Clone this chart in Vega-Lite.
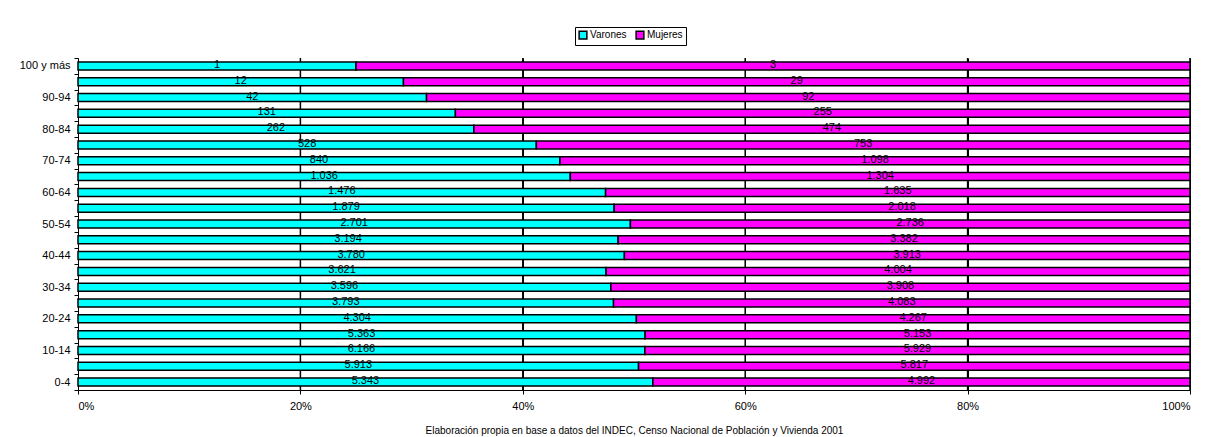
{
  "$schema": "https://vega.github.io/schema/vega-lite/v6.json",
  "width": 1112,
  "height": 332,
  "autosize": {"type": "none"},
  "padding": {"left": 78, "top": 58, "right": 24, "bottom": 47},
  "background": "white",
  "config": {
    "locale": {"number": {"decimal": ",", "thousands": ".", "grouping": [3], "currency": ["$", ""]}},
    "font": "Liberation Sans",
    "view": {"stroke": null},
    "axis": {"labelFont": "Liberation Sans", "labelFontSize": 11, "labelColor": "#000", "domainColor": "#000", "tickColor": "#000"}
  },
  "datasets": {
    "lineas": [{"g": 0.2}, {"g": 0.4}, {"g": 0.6}, {"g": 0.8}, {"g": 1}],
    "pob": [
      {"edad": "0-4", "sexo": "Varones", "n": 5343},
      {"edad": "0-4", "sexo": "Mujeres", "n": 4992},
      {"edad": "5-9", "sexo": "Varones", "n": 5913},
      {"edad": "5-9", "sexo": "Mujeres", "n": 5817},
      {"edad": "10-14", "sexo": "Varones", "n": 6166},
      {"edad": "10-14", "sexo": "Mujeres", "n": 5929},
      {"edad": "15-19", "sexo": "Varones", "n": 5363},
      {"edad": "15-19", "sexo": "Mujeres", "n": 5153},
      {"edad": "20-24", "sexo": "Varones", "n": 4304},
      {"edad": "20-24", "sexo": "Mujeres", "n": 4267},
      {"edad": "25-29", "sexo": "Varones", "n": 3793},
      {"edad": "25-29", "sexo": "Mujeres", "n": 4083},
      {"edad": "30-34", "sexo": "Varones", "n": 3596},
      {"edad": "30-34", "sexo": "Mujeres", "n": 3908},
      {"edad": "35-39", "sexo": "Varones", "n": 3621},
      {"edad": "35-39", "sexo": "Mujeres", "n": 4004},
      {"edad": "40-44", "sexo": "Varones", "n": 3780},
      {"edad": "40-44", "sexo": "Mujeres", "n": 3913},
      {"edad": "45-49", "sexo": "Varones", "n": 3194},
      {"edad": "45-49", "sexo": "Mujeres", "n": 3382},
      {"edad": "50-54", "sexo": "Varones", "n": 2701},
      {"edad": "50-54", "sexo": "Mujeres", "n": 2736},
      {"edad": "55-59", "sexo": "Varones", "n": 1879},
      {"edad": "55-59", "sexo": "Mujeres", "n": 2018},
      {"edad": "60-64", "sexo": "Varones", "n": 1476},
      {"edad": "60-64", "sexo": "Mujeres", "n": 1635},
      {"edad": "65-69", "sexo": "Varones", "n": 1036},
      {"edad": "65-69", "sexo": "Mujeres", "n": 1304},
      {"edad": "70-74", "sexo": "Varones", "n": 840},
      {"edad": "70-74", "sexo": "Mujeres", "n": 1098},
      {"edad": "75-79", "sexo": "Varones", "n": 528},
      {"edad": "75-79", "sexo": "Mujeres", "n": 753},
      {"edad": "80-84", "sexo": "Varones", "n": 262},
      {"edad": "80-84", "sexo": "Mujeres", "n": 474},
      {"edad": "85-89", "sexo": "Varones", "n": 131},
      {"edad": "85-89", "sexo": "Mujeres", "n": 255},
      {"edad": "90-94", "sexo": "Varones", "n": 42},
      {"edad": "90-94", "sexo": "Mujeres", "n": 92},
      {"edad": "95-99", "sexo": "Varones", "n": 12},
      {"edad": "95-99", "sexo": "Mujeres", "n": 29},
      {"edad": "100 y más", "sexo": "Varones", "n": 1},
      {"edad": "100 y más", "sexo": "Mujeres", "n": 3}
    ]
  },
  "layer": [
    {
      "data": {"name": "lineas"},
      "mark": {"type": "rule", "color": "#000", "strokeWidth": 1.5},
      "encoding": {
        "x": {"field": "g", "type": "quantitative", "scale": {"domain": [0, 1]}}
      }
    },
    {
      "data": {"name": "pob"},
      "transform": [
        {"calculate": "datum.sexo === 'Varones' ? 0 : 1", "as": "so"}
      ],
      "encoding": {
        "y": {
          "field": "edad",
          "type": "nominal",
          "sort": ["100 y más", "95-99", "90-94", "85-89", "80-84", "75-79", "70-74", "65-69", "60-64", "55-59", "50-54", "45-49", "40-44", "35-39", "30-34", "25-29", "20-24", "15-19", "10-14", "5-9", "0-4"],
          "title": null,
          "scale": {"paddingInner": 0, "paddingOuter": 0},
          "axis": {
            "tickBand": "extent",
            "tickSize": 4,
            "labelPadding": 4,
            "labelExpr": "indexof(['0-4','10-14','20-24','30-34','40-44','50-54','60-64','70-74','80-84','90-94','100 y más'], datum.value) >= 0 ? datum.value : ''"
          }
        },
        "x": {
          "field": "n",
          "type": "quantitative",
          "stack": "normalize",
          "scale": {"domain": [0, 1]},
          "title": "Elaboración propia en base a datos del INDEC, Censo Nacional de Población y Vivienda 2001",
          "axis": {
            "format": ".0%",
            "values": [0, 0.2, 0.4, 0.6, 0.8, 1],
            "grid": true,
            "gridColor": "#000",
            "gridWidth": 1,
            "tickSize": 4,
            "labelPadding": 6,
            "titleFont": "Liberation Sans",
            "titleFontSize": 10,
            "titleFontWeight": "normal",
            "titleColor": "#000",
            "titlePadding": 14
          }
        },
        "order": {"field": "so", "type": "quantitative"}
      },
      "layer": [
        {
          "mark": {"type": "bar", "size": 8, "stroke": "#000", "strokeWidth": 1.5},
          "encoding": {
            "color": {
              "field": "sexo",
              "type": "nominal",
              "sort": ["Varones", "Mujeres"],
              "scale": {"domain": ["Varones", "Mujeres"], "range": ["#00FFFF", "#FF00FF"]},
              "legend": {
                "title": null,
                "orient": "none",
                "direction": "horizontal",
                "legendX": 497,
                "legendY": -31,
                "symbolType": "square",
                "symbolSize": 60,
                "symbolStrokeColor": "#000",
                "symbolStrokeWidth": 1.5,
                "labelFont": "Liberation Sans",
                "labelFontSize": 10,
                "labelColor": "#000",
                "columnPadding": 6,
                "symbolOffset": 0,
                "labelOffset": 2,
                "padding": 3,
                "strokeColor": "#000",
                "fillColor": "#fff"
              }
            }
          }
        },
        {
          "mark": {"type": "text", "font": "Liberation Sans", "fontSize": 11, "color": "#000", "dy": -1},
          "encoding": {
            "x": {
              "field": "n",
              "type": "quantitative",
              "stack": "normalize",
              "bandPosition": 0.5
            },
            "text": {"field": "n", "type": "quantitative", "format": ",d"}
          }
        }
      ]
    }
  ]
}
